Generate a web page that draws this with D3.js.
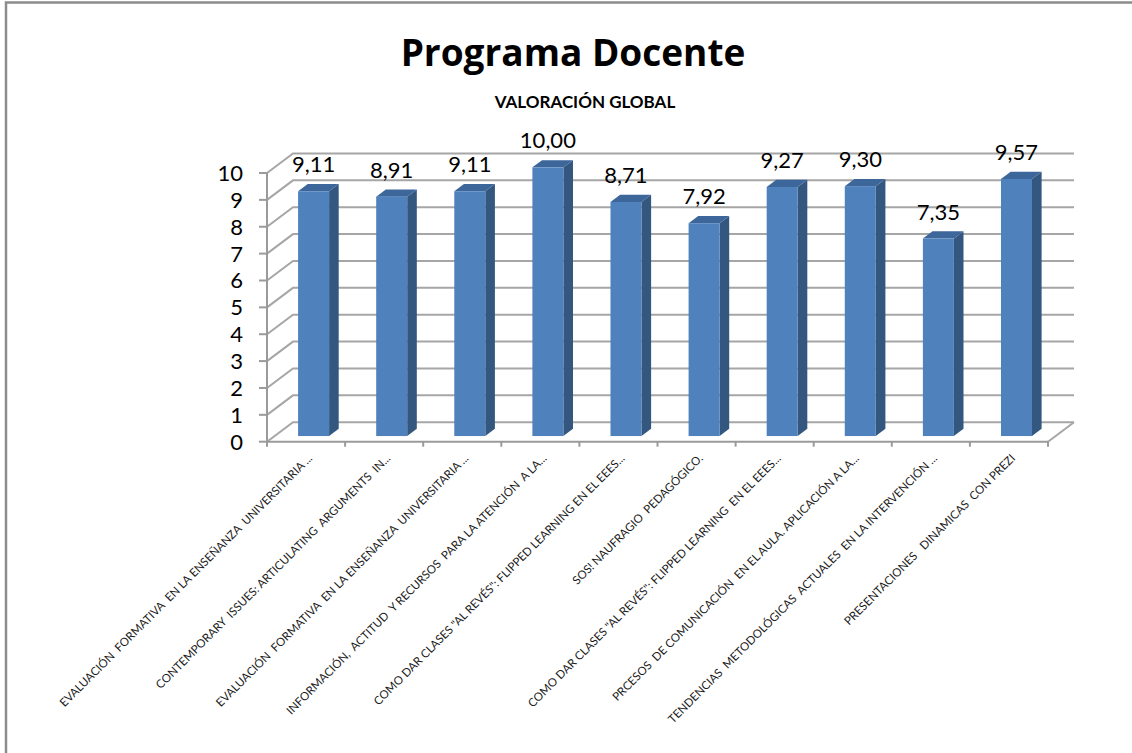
<!DOCTYPE html>
<html>
<head>
<meta charset="utf-8">
<script src="https://cdn.jsdelivr.net/npm/d3@7"></script>
<style>
  body { margin: 0; background: #fff; }
  svg text { font-family: Lato, "Open Sans", sans-serif; }
  .xlab { white-space: pre; }
</style>
</head>
<body>
<svg id="chart" width="1132" height="753"></svg>
<script>
// category labels (as printed, truncated)
const categories = [
  'EVALUACIÓN  FORMATIVA  EN LA ENSEÑANZA  UNIVERSITARIA ...',
  'CONTEMPORARY  ISSUES: ARTICULATING  ARGUMENTS  IN...',
  'EVALUACIÓN  FORMATIVA  EN LA ENSEÑANZA  UNIVERSITARIA ...',
  'INFORMACIÓN,  ACTITUD  Y RECURSOS  PARA LA ATENCIÓN  A LA...',
  'COMO DAR CLASES "AL REVÉS": FLIPPED LEARNING EN EL EEES...',
  'SOS! NAUFRAGIO  PEDAGÓGICO.',
  'COMO DAR CLASES "AL REVÉS": FLIPPED LEARNING  EN EL EEES...',
  'PRCESOS  DE COMUNICACIÓN  EN EL AULA. APLICACIÓN A LA...',
  'TENDENCIAS  METODOLÓGICAS  ACTUALES  EN LA INTERVENCIÓN ...',
  'PRESENTACIONES   DINAMICAS  CON PREZI'
];
const values = [9.11, 8.91, 9.11, 10.00, 8.71, 7.92, 9.27, 9.30, 7.35, 9.57];
const yTicks = [0, 1, 2, 3, 4, 5, 6, 7, 8, 9, 10];

const title = 'Programa Docente';
const subtitle = 'VALORACIÓN GLOBAL';

(function () {
  let svg = d3.select('#chart');
  let fmt = d3.formatLocale({ decimal: ',', thousands: '.', grouping: [3], currency: ['', '€'] }).format('.2f');

  // 3d depth of the plot box
  let depth = { x: 26, y: -19.5 };
  let bar0 = 0.29, bar1 = 0.66;   // bar front/back as fraction of depth

  let x = d3.scaleBand().domain(d3.range(categories.length)).range([267, 1048]).padding(0);
  let y = d3.scaleLinear().domain([0, 10]).range([441.7, 173]);

  // outer frame (left and top only, the rest is cut)
  svg.append('path')
    .attr('d', 'M6,753 V2.5 H1132')
    .attr('fill', 'none')
    .attr('stroke', '#8c8c8c')
    .attr('stroke-width', 2.5);

  // titles
  svg.append('text')
    .attr('x', 573).attr('y', 66)
    .attr('text-anchor', 'middle')
    .style('font-family', '"Open Sans", sans-serif')
    .attr('font-size', 37).attr('font-weight', 'bold')
    .text(title);
  svg.append('text')
    .attr('x', 585).attr('y', 108)
    .attr('text-anchor', 'middle')
    .attr('font-size', 17).attr('font-weight', 'bold')
    .text(subtitle);

  let x0 = x.range()[0], x1 = x.range()[1];
  let grid = svg.append('g').attr('stroke', '#a6a6a6').attr('stroke-width', 2).attr('fill', 'none');

  // back wall gridlines + side wall diagonals
  yTicks.forEach(t => {
    let yf = y(t);
    grid.append('path')
      .attr('d', `M${x0},${yf} L${x0 + depth.x},${yf + depth.y} L${x1 + depth.x},${yf + depth.y}`);
  });
  // floor right edge
  grid.append('path')
    .attr('d', `M${x1},${y(0)} L${x1 + depth.x},${y(0) + depth.y}`);

  // front axes
  let axes = svg.append('g').attr('stroke', '#9a9a9a').attr('stroke-width', 2).attr('fill', 'none');
  axes.append('path').attr('d', `M${x0},${y(0)} H${x1}`);
  axes.append('path').attr('d', `M${x0},${y(10)} V${y(0)}`);
  yTicks.forEach(t => {
    axes.append('path').attr('d', `M${x0 - 8},${y(t)} H${x0}`);
  });
  d3.range(categories.length + 1).forEach(i => {
    let xx = i < categories.length ? x(i) : x1;
    axes.append('path').attr('d', `M${xx},${y(0)} V${y(0) + 5}`);
  });

  // y labels
  svg.append('g').selectAll('text').data(yTicks).enter().append('text')
    .attr('x', 243)
    .attr('y', d => y(d))
    .attr('dy', '0.36em')
    .attr('text-anchor', 'end')
    .attr('font-size', 22)
    .attr('fill', '#000')
    .text(d => d);

  // bars
  let bw = 31;
  let fx = bar0 * depth.x, fy = bar0 * depth.y;
  let dx = (bar1 - bar0) * depth.x, dy = (bar1 - bar0) * depth.y;
  let bars = svg.append('g').selectAll('g').data(values).enter().append('g');

  bars.each(function (v, i) {
    let g = d3.select(this);
    let left = x(i) + x.bandwidth() / 2 - bw / 2 + fx;
    let right = left + bw;
    let top = y(v) + fy, bottom = y(0) + fy;
    // side
    g.append('path')
      .attr('d', `M${right},${top} L${right + dx},${top + dy} L${right + dx},${bottom + dy} L${right},${bottom} Z`)
      .attr('fill', '#34577f');
    // top
    g.append('path')
      .attr('d', `M${left},${top} L${left + dx},${top + dy} L${right + dx},${top + dy} L${right},${top} Z`)
      .attr('fill', '#3d669a');
    // front
    g.append('rect')
      .attr('x', left).attr('y', top)
      .attr('width', bw).attr('height', bottom - top)
      .attr('fill', '#4f81bd');
    // value label
    g.append('text')
      .attr('x', left + bw / 2)
      .attr('y', top - 19)
      .attr('text-anchor', 'middle')
      .attr('font-size', 22)
      .text(fmt(v));
  });

  // rotated category labels
  svg.append('g').selectAll('text').data(categories).enter().append('text')
    .attr('class', 'xlab')
    .attr('text-anchor', 'end')
    .attr('font-size', 11.5)
    .attr('fill', '#1a1a1a')
    .attr('transform', (d, i) => `translate(${x(i) + x.bandwidth() / 2 + 7},${459}) rotate(-45)`)
    .text(d => d);
})();
</script>
</body>
</html>
